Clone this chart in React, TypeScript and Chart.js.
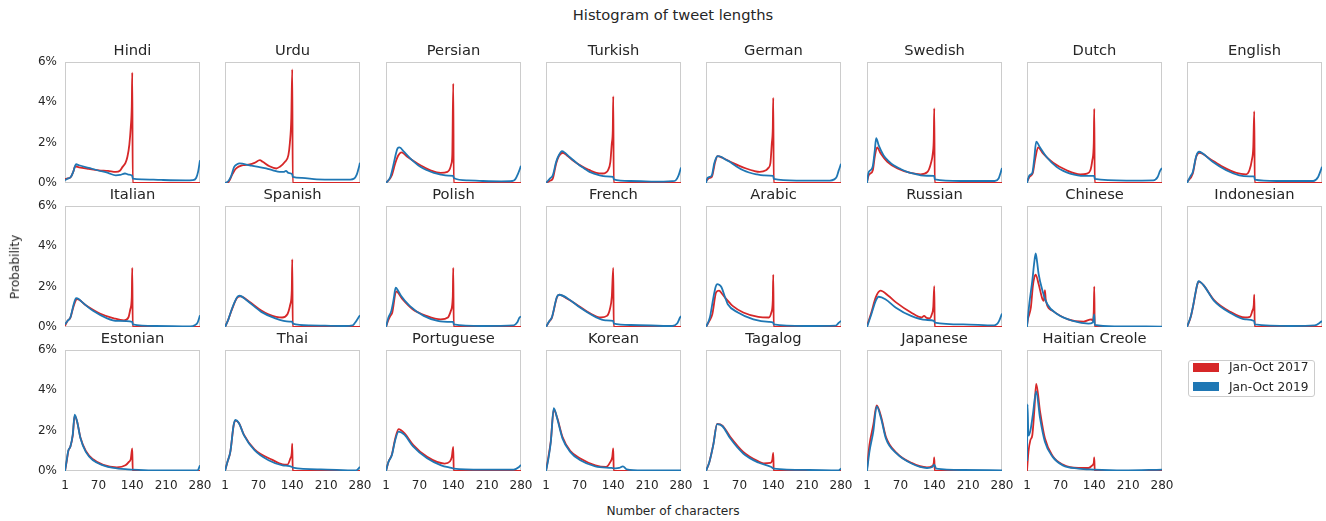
import React, { useEffect, useRef } from "react";
import { Chart, registerables } from "chart.js";

Chart.register(...registerables);

// ---------- categories / labels ----------
const languages = [
  "Hindi", "Urdu", "Persian", "Turkish", "German", "Swedish", "Dutch", "English",
  "Italian", "Spanish", "Polish", "French", "Arabic", "Russian", "Chinese", "Indonesian",
  "Estonian", "Thai", "Portuguese", "Korean", "Tagalog", "Japanese", "Haitian Creole",
];
const seriesLabels = ["Jan-Oct 2017", "Jan-Oct 2019"];
const xTickValues = [1, 70, 140, 210, 280];
const yTickValues = [0, 2, 4, 6];
const figureTitle = "Histogram of tweet lengths";
const xAxisTitle = "Number of characters";
const yAxisTitle = "Probability";

// ---------- series values: [characters, probability %] ----------
const hindi2017 = [[1,0.2],[5,0.22],[13,0.3],[18,0.55],[22,0.83],[30,0.78],[50,0.7],[71,0.63],[90,0.6],[106,0.55],[115,0.62],[120,0.8],[126,1.0],[130,1.3],[134,1.9],[137,2.8],[139,3.8],[140,5.47],[141,0],[280,0]];
const hindi2019 = [[1,0.13],[5,0.2],[13,0.3],[18,0.55],[22,0.85],[24,0.93],[30,0.88],[50,0.75],[70,0.62],[90,0.5],[106,0.38],[115,0.4],[125,0.47],[132,0.42],[140,0.35],[141,0.22],[160,0.18],[200,0.15],[250,0.13],[265,0.14],[272,0.25],[276,0.55],[280,1.13]];
const urdu2017 = [[1,0],[8,0.05],[17,0.47],[24,0.72],[38,0.88],[52,0.92],[62,1.0],[73,1.13],[79,1.05],[93,0.83],[107,0.72],[114,0.8],[125,1.05],[132,1.38],[135,1.97],[138,3.2],[140,5.63],[141,0],[280,0]];
const urdu2019 = [[1,0],[8,0.1],[13,0.3],[20,0.8],[26,0.93],[31,0.97],[52,0.88],[70,0.8],[86,0.72],[100,0.63],[114,0.55],[122,0.55],[127,0.6],[132,0.5],[140,0.43],[141,0.3],[160,0.25],[191,0.18],[230,0.17],[260,0.17],[268,0.22],[273,0.4],[276,0.63],[280,1.0]];
const persian2017 = [[1,0],[13,0.38],[20,0.97],[26,1.35],[33,1.52],[45,1.3],[66,0.97],[80,0.78],[93,0.63],[114,0.5],[128,0.55],[133,0.7],[136,0.95],[138,1.4],[140,4.93],[141,0],[280,0]];
const persian2019 = [[1,0],[10,0.3],[17,0.97],[22,1.5],[25,1.72],[29,1.77],[38,1.55],[50,1.25],[59,1.05],[72,0.8],[86,0.63],[100,0.5],[114,0.42],[130,0.37],[140,0.35],[141,0.25],[170,0.13],[200,0.1],[239,0.08],[262,0.1],[268,0.18],[274,0.47],[280,0.85]];
const turkish2017 = [[1,0],[10,0.12],[15,0.22],[22,0.97],[28,1.35],[36,1.5],[45,1.35],[56,1.13],[77,0.8],[90,0.65],[105,0.5],[118,0.47],[125,0.52],[129,0.63],[134,1.05],[137,1.97],[139,2.6],[140,4.3],[141,0],[280,0]];
const turkish2019 = [[1,0],[9,0.22],[15,0.38],[22,1.05],[28,1.4],[34,1.58],[40,1.5],[49,1.3],[60,1.08],[70,0.88],[80,0.72],[91,0.55],[112,0.38],[125,0.33],[140,0.3],[141,0.18],[175,0.1],[244,0.07],[262,0.09],[269,0.13],[275,0.38],[280,0.77]];
const german2017 = [[1,0.1],[8,0.25],[13,0.3],[20,1.05],[25,1.33],[35,1.25],[56,1.0],[70,0.85],[84,0.72],[100,0.6],[112,0.55],[125,0.63],[130,0.75],[134,0.97],[137,1.97],[139,2.7],[140,4.22],[141,0],[280,0]];
const german2019 = [[1,0],[4,0.25],[8,0.3],[13,0.38],[18,0.97],[22,1.25],[25,1.33],[32,1.3],[40,1.18],[50,1.05],[64,0.82],[78,0.63],[90,0.52],[105,0.43],[120,0.38],[140,0.35],[141,0.2],[188,0.12],[257,0.12],[266,0.18],[271,0.3],[275,0.6],[280,0.95]];
const swedish2017 = [[1,0.05],[4,0.35],[8,0.47],[13,0.63],[17,1.3],[22,1.77],[29,1.47],[43,1.05],[64,0.72],[91,0.5],[112,0.43],[126,0.55],[133,0.97],[137,1.47],[139,2.2],[140,3.7],[141,0],[280,0]];
const swedish2019 = [[1,0],[4,0.5],[8,0.63],[13,0.83],[17,1.6],[20,2.22],[25,1.88],[35,1.38],[45,1.1],[56,0.88],[70,0.7],[84,0.55],[100,0.45],[112,0.38],[125,0.36],[140,0.35],[141,0.18],[195,0.1],[265,0.1],[273,0.22],[277,0.5],[280,0.75]];
const dutch2017 = [[1,0.05],[6,0.3],[13,0.5],[18,1.2],[24,1.77],[34,1.47],[55,1.0],[83,0.63],[111,0.43],[125,0.47],[132,0.63],[136,1.13],[139,2.0],[140,3.68],[141,0],[280,0]];
const dutch2019 = [[1,0],[6,0.38],[12,0.5],[16,1.2],[20,2.05],[27,1.8],[41,1.3],[62,0.8],[76,0.6],[90,0.47],[118,0.35],[140,0.35],[141,0.2],[206,0.12],[262,0.13],[271,0.3],[276,0.6],[280,0.75]];
const english2017 = [[1,0.05],[13,0.47],[20,1.3],[27,1.5],[47,1.22],[75,0.8],[103,0.5],[123,0.43],[130,0.63],[135,1.13],[138,1.8],[140,3.55],[141,0],[280,0]];
const english2019 = [[1,0],[8,0.33],[13,0.55],[20,1.33],[26,1.55],[33,1.47],[54,1.05],[82,0.63],[109,0.38],[130,0.33],[140,0.33],[141,0.17],[186,0.1],[262,0.1],[272,0.3],[277,0.6],[280,0.8]];
const italian2017 = [[1,0.05],[6,0.3],[12,0.45],[19,1.05],[26,1.38],[44,1.08],[73,0.67],[102,0.43],[123,0.33],[132,0.47],[136,0.88],[139,1.5],[140,2.93],[141,0],[280,0]];
const italian2019 = [[1,0.13],[6,0.3],[12,0.47],[19,1.13],[24,1.43],[30,1.38],[37,1.22],[59,0.8],[88,0.43],[109,0.3],[140,0.25],[141,0.13],[188,0.05],[260,0.03],[270,0.1],[275,0.22],[280,0.58]];
const spanish2017 = [[1,0],[8,0.38],[15,0.85],[26,1.45],[33,1.52],[50,1.28],[76,0.82],[91,0.63],[119,0.47],[130,0.63],[136,1.13],[139,1.8],[140,3.35],[141,0],[280,0]];
const spanish2019 = [[1,0],[8,0.38],[15,0.88],[26,1.47],[31,1.55],[47,1.3],[76,0.75],[105,0.43],[134,0.27],[140,0.27],[141,0.17],[176,0.08],[248,0.05],[265,0.08],[270,0.22],[275,0.4],[280,0.58]];
const polish2017 = [[1,0],[6,0.35],[10,0.55],[14,0.72],[22,1.77],[35,1.38],[56,0.88],[85,0.55],[114,0.38],[129,0.47],[135,0.8],[139,1.5],[140,2.93],[141,0],[280,0]];
const polish2019 = [[1,0],[6,0.47],[12,0.8],[17,1.4],[21,1.95],[26,1.8],[32,1.55],[50,1.05],[79,0.55],[108,0.3],[136,0.25],[140,0.25],[141,0.13],[200,0.05],[265,0.08],[272,0.22],[277,0.47],[280,0.52]];
const french2017 = [[1,0],[8,0.28],[13,0.45],[24,1.5],[29,1.6],[45,1.4],[61,1.17],[93,0.67],[114,0.47],[127,0.55],[133,0.88],[137,1.5],[140,2.93],[141,0],[280,0]];
const french2019 = [[1,0],[8,0.3],[13,0.47],[24,1.52],[29,1.6],[45,1.43],[72,0.95],[103,0.5],[124,0.33],[140,0.3],[141,0.17],[176,0.1],[262,0.05],[272,0.17],[278,0.47],[280,0.55]];
const arabic2017 = [[1,0],[8,0.3],[14,0.63],[22,1.72],[28,1.8],[34,1.65],[40,1.47],[51,1.17],[56,1.05],[78,0.72],[109,0.5],[131,0.47],[136,0.72],[139,1.3],[140,2.6],[141,0],[280,0]];
const arabic2019 = [[1,0],[9,0.47],[13,1.0],[17,1.55],[21,2.0],[24,2.13],[28,2.1],[33,1.97],[40,1.5],[46,1.13],[67,0.72],[99,0.38],[131,0.25],[140,0.22],[141,0.13],[205,0.05],[269,0.07],[275,0.2],[280,0.3]];
const russian2017 = [[1,0.05],[10,0.72],[19,1.47],[29,1.8],[45,1.55],[61,1.22],[92,0.72],[114,0.47],[119,0.55],[124,0.45],[130,0.43],[135,0.63],[138,1.0],[140,2.02],[141,0],[280,0]];
const russian2019 = [[1,0],[10,0.63],[19,1.3],[25,1.5],[39,1.38],[60,0.97],[92,0.55],[123,0.35],[140,0.3],[141,0.22],[200,0.13],[264,0.08],[270,0.15],[274,0.3],[280,0.67]];
const chinese2017 = [[1,0.1],[3,0.4],[9,0.97],[13,2.0],[16,2.45],[19,2.6],[25,2.13],[33,1.38],[36,1.3],[38,1.83],[40,1.3],[54,0.8],[86,0.38],[118,0.27],[134,0.38],[137,0.3],[139,0.8],[140,2.0],[141,0],[280,0]];
const chinese2019 = [[1,0],[3,0.5],[6,1.2],[12,2.3],[16,3.2],[19,3.65],[22,3.2],[25,2.63],[33,1.8],[43,1.13],[64,0.63],[96,0.3],[128,0.17],[137,0.22],[140,0.63],[141,0.1],[182,0.03],[280,0.02]];
const indonesian2017 = [[1,0],[9,0.52],[14,1.08],[18,1.6],[22,2.08],[25,2.25],[30,2.2],[36,2.05],[57,1.33],[89,0.77],[121,0.47],[131,0.5],[136,0.8],[139,1.1],[140,1.6],[141,0],[280,0]];
const indonesian2019 = [[1,0],[9,0.55],[14,1.1],[18,1.63],[22,2.1],[25,2.27],[30,2.2],[36,2.05],[57,1.3],[89,0.72],[121,0.38],[140,0.3],[141,0.13],[217,0.05],[265,0.08],[276,0.22],[280,0.3]];
const estonian2017 = [[1,0],[4,0.4],[8,1.0],[12,1.2],[17,1.75],[21,2.75],[26,2.45],[33,1.65],[44,1.0],[59,0.58],[80,0.3],[108,0.18],[126,0.28],[133,0.45],[137,0.6],[140,1.12],[141,0],[280,0]];
const estonian2019 = [[1,0],[4,0.45],[8,1.03],[12,1.2],[17,1.8],[21,2.8],[26,2.45],[33,1.62],[44,0.95],[59,0.53],[80,0.28],[101,0.15],[131,0.08],[140,0.07],[188,0.03],[275,0.03],[280,0.28]];
const thai2017 = [[1,0],[6,0.45],[12,0.95],[19,2.28],[23,2.5],[30,2.37],[40,1.8],[62,1.07],[99,0.55],[120,0.33],[130,0.32],[136,0.62],[139,0.9],[140,1.35],[141,0],[280,0]];
const thai2019 = [[1,0],[6,0.45],[12,0.95],[19,2.3],[23,2.53],[30,2.37],[40,1.78],[62,1.03],[91,0.53],[120,0.28],[140,0.2],[141,0.17],[199,0.08],[272,0.03],[280,0.2]];
const portuguese2017 = [[1,0],[6,0.45],[13,0.8],[20,1.6],[27,2.08],[39,1.88],[57,1.3],[86,0.7],[122,0.37],[133,0.47],[137,0.7],[140,1.2],[141,0],[280,0]];
const portuguese2019 = [[1,0],[6,0.45],[13,0.78],[20,1.53],[27,1.95],[39,1.8],[57,1.22],[86,0.63],[115,0.28],[136,0.15],[141,0.12],[200,0.07],[265,0.07],[276,0.2],[280,0.3]];
const korean2017 = [[1,0],[6,0.7],[11,1.5],[17,3.05],[24,2.65],[35,1.7],[51,1.0],[72,0.62],[103,0.28],[125,0.2],[134,0.45],[138,0.7],[140,1.12],[141,0],[280,0]];
const korean2019 = [[1,0],[6,0.62],[11,1.45],[17,3.12],[24,2.62],[35,1.62],[51,0.95],[72,0.53],[103,0.23],[136,0.15],[145,0.13],[152,0.15],[160,0.23],[168,0.08],[200,0.03],[280,0.03]];
const tagalog2017 = [[1,0],[8,0.45],[16,1.3],[24,2.33],[35,2.25],[51,1.7],[78,0.95],[109,0.48],[120,0.38],[134,0.4],[138,0.55],[140,0.9],[141,0],[280,0]];
const tagalog2019 = [[1,0],[8,0.45],[16,1.28],[24,2.32],[35,2.22],[51,1.62],[78,0.87],[109,0.42],[136,0.2],[141,0.12],[215,0.05],[275,0.03],[280,0.12]];
const japanese2017 = [[1,0.1],[6,1.28],[14,2.28],[21,3.25],[30,2.7],[40,1.7],[62,0.9],[93,0.4],[125,0.18],[136,0.25],[139,0.4],[140,0.67],[141,0],[280,0]];
const japanese2019 = [[1,0],[6,0.95],[14,1.95],[21,3.2],[30,2.62],[40,1.62],[62,0.87],[93,0.37],[125,0.15],[136,0.2],[140,0.32],[144,0.12],[200,0.05],[280,0.03]];
const haitian2017 = [[1,0],[4,0.95],[8,1.53],[12,1.78],[16,2.95],[20,4.32],[28,2.95],[38,1.62],[54,0.75],[75,0.32],[107,0.15],[128,0.15],[136,0.28],[139,0.4],[140,0.67],[141,0],[280,0]];
const haitian2019 = [[1,0.5],[2,3.3],[4,1.75],[8,2.0],[13,2.78],[20,3.95],[28,2.62],[38,1.45],[54,0.7],[75,0.28],[107,0.12],[139,0.07],[200,0.03],[280,0.07]];

const series2017 = [hindi2017, urdu2017, persian2017, turkish2017, german2017, swedish2017, dutch2017, english2017,
  italian2017, spanish2017, polish2017, french2017, arabic2017, russian2017, chinese2017, indonesian2017,
  estonian2017, thai2017, portuguese2017, korean2017, tagalog2017, japanese2017, haitian2017];
const series2019 = [hindi2019, urdu2019, persian2019, turkish2019, german2019, swedish2019, dutch2019, english2019,
  italian2019, spanish2019, polish2019, french2019, arabic2019, russian2019, chinese2019, indonesian2019,
  estonian2019, thai2019, portuguese2019, korean2019, tagalog2019, japanese2019, haitian2019];

// ---------- styling / layout ----------
const RED = "#d62728";
const BLUE = "#1f77b4";
const TEXT = "#262626";
const FRAME = "#cccccc";
const FONT = "'DejaVu Sans', sans-serif";
const NCOLS = 8;
const PADL = 45, PADT = 27, PADR = 16, PADB = 24;
const W = 135, H = 121;
const colLeft = (c: number) => Math.round(65 + c * 160.3);
const rowTop = (r: number) => 62 + r * 144;

const framePlugin = {
  id: "panelFrame",
  beforeDatasetsDraw(chart: any) {
    const { ctx, chartArea: a } = chart;
    ctx.save();
    ctx.strokeStyle = FRAME;
    ctx.lineWidth = 1;
    ctx.strokeRect(a.left + 0.5, a.top + 0.5, a.right - a.left - 1, a.bottom - a.top - 1);
    ctx.restore();
  },
};

function Panel({ index }: { index: number }) {
  const ref = useRef<HTMLCanvasElement>(null);
  const r = Math.floor(index / NCOLS);
  const c = index % NCOLS;
  const showY = c === 0;
  const showX = r === 2;
  const cw = PADL + W + PADR;
  const ch = PADT + H + PADB;
  useEffect(() => {
    const zeroPad = (s: any) => {
      s.paddingLeft = 0; s.paddingRight = 0; s.paddingTop = 0; s.paddingBottom = 0;
    };
    const chart = new Chart(ref.current as HTMLCanvasElement, {
      type: "line",
      data: {
        datasets: [
          {
            label: seriesLabels[1],
            data: series2019[index] as any,
            borderColor: BLUE,
            borderWidth: 1.8,
            pointRadius: 0,
            cubicInterpolationMode: "monotone",
            borderJoinStyle: "round",
            fill: false,
          },
          {
            label: seriesLabels[0],
            data: series2017[index] as any,
            borderColor: RED,
            borderWidth: 1.8,
            pointRadius: 0,
            cubicInterpolationMode: "monotone",
            borderJoinStyle: "round",
            fill: false,
          },
        ],
      },
      options: {
        responsive: false,
        animation: false,
        events: [],
        layout: { padding: { left: 0, top: 0, right: PADR, bottom: 0 } },
        plugins: {
          legend: { display: false },
          tooltip: { enabled: false },
          title: {
            display: true,
            fullSize: false,
            text: languages[index],
            color: TEXT,
            font: { family: FONT, size: 14.7, weight: "normal", lineHeight: "18px" } as any,
            padding: { top: 7, bottom: 2 },
          },
        },
        scales: {
          x: {
            type: "linear",
            min: 1,
            max: 280,
            grid: { display: false, drawTicks: false },
            border: { display: false },
            ticks: {
              display: showX,
              autoSkip: false,
              maxRotation: 0,
              padding: 8,
              color: TEXT,
              font: { family: FONT, size: 12 },
              callback: (v: any) => String(v),
            },
            afterBuildTicks: (s: any) => {
              s.ticks = xTickValues.map((v) => ({ value: v }));
            },
            afterFit: (s: any) => {
              s.height = PADB;
              zeroPad(s);
            },
          },
          y: {
            type: "linear",
            min: 0,
            max: 6,
            grid: { display: false, drawTicks: false },
            border: { display: false },
            ticks: {
              display: showY,
              padding: 8,
              color: TEXT,
              font: { family: FONT, size: 12 },
              callback: (v: any) => `${v}%`,
            },
            afterBuildTicks: (s: any) => {
              s.ticks = yTickValues.map((v) => ({ value: v }));
            },
            afterFit: (s: any) => {
              s.width = PADL;
              zeroPad(s);
            },
          },
        },
      },
      plugins: [framePlugin],
    });
    return () => chart.destroy();
  }, [index]);
  return (
    <canvas
      ref={ref}
      width={cw}
      height={ch}
      style={{
        position: "absolute",
        left: colLeft(c) - PADL,
        top: rowTop(r) - PADT,
        width: cw,
        height: ch,
      }}
    />
  );
}

const centered = (x: number, y: number, size: number, extra: any = {}) => ({
  position: "absolute" as const,
  left: x,
  top: y,
  transform: "translate(-50%, -50%)",
  fontFamily: FONT,
  fontSize: size,
  lineHeight: 1,
  color: TEXT,
  whiteSpace: "nowrap" as const,
  ...extra,
});

export default function App() {
  return (
    <div
      style={{
        position: "absolute",
        left: 0,
        top: 0,
        width: 1326,
        height: 521,
        background: "#ffffff",
        overflow: "hidden",
      }}
    >
      <div style={centered(673, 15, 14.7)}>{figureTitle}</div>
      {languages.map((_, i) => (
        <Panel key={i} index={i} />
      ))}
      <div style={centered(15, 267, 12.2, { transform: "translate(-50%, -50%) rotate(-90deg)" })}>
        {yAxisTitle}
      </div>
      <div style={centered(673, 511, 12.2)}>{xAxisTitle}</div>
      <div
        style={{
          position: "absolute",
          left: 1188,
          top: 360,
          width: 127,
          height: 37,
          boxSizing: "border-box",
          border: `1px solid ${FRAME}`,
          borderRadius: 3,
          background: "#fff",
        }}
      >
        {[RED, BLUE].map((col, i) => (
          <React.Fragment key={i}>
            <div
              style={{
                position: "absolute",
                left: 4,
                top: 1.5 + i * 19.4,
                width: 26,
                height: 9,
                background: col,
              }}
            />
            <div style={centered(40, 6.3 + i * 19.4, 12.2, { transform: "translate(0, -50%)" })}>
              {seriesLabels[i]}
            </div>
          </React.Fragment>
        ))}
      </div>
    </div>
  );
}
